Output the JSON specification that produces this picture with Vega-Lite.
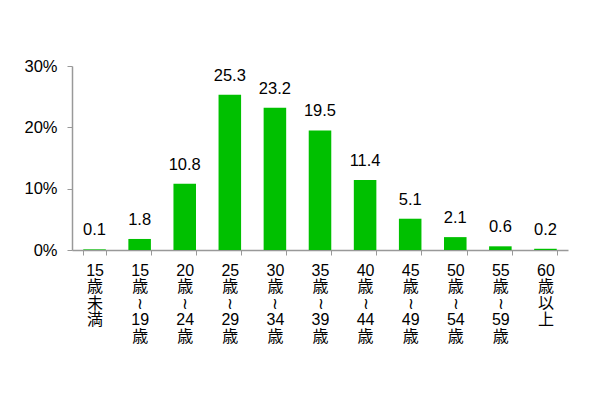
{
  "$schema": "https://vega.github.io/schema/vega-lite/v6.json",
  "autosize": "none",
  "width": 496,
  "height": 184,
  "padding": {"left": 72, "top": 66, "right": 42, "bottom": 150},
  "background": "white",
  "config": {"view": {"stroke": null}, "font": "Liberation Sans"},
  "data": {
    "values": [
      {"age": "15|歳|未|満", "pct": 0.1},
      {"age": "15|歳|≀|19|歳", "pct": 1.8},
      {"age": "20|歳|≀|24|歳", "pct": 10.8},
      {"age": "25|歳|≀|29|歳", "pct": 25.3},
      {"age": "30|歳|≀|34|歳", "pct": 23.2},
      {"age": "35|歳|≀|39|歳", "pct": 19.5},
      {"age": "40|歳|≀|44|歳", "pct": 11.4},
      {"age": "45|歳|≀|49|歳", "pct": 5.1},
      {"age": "50|歳|≀|54|歳", "pct": 2.1},
      {"age": "55|歳|≀|59|歳", "pct": 0.6},
      {"age": "60|歳|以|上", "pct": 0.2}
    ]
  },
  "encoding": {
    "x": {
      "field": "age", "type": "nominal", "sort": null,
      "scale": {"paddingInner": 0.5, "paddingOuter": 0.25},
      "axis": {
        "title": null, "labelAngle": 0, "labelExpr": "split(datum.label, '|')",
        "labelFont": "Liberation Sans, Noto Sans CJK JP", "labelFontSize": 16, "labelColor": "#000",
        "labelLineHeight": 16.5, "labelBaseline": "top", "labelPadding": 7,
        "tickBand": "extent", "tickSize": 5, "tickColor": "#999", "domainColor": "#999", "domainWidth": 1.5
      }
    },
    "y": {
      "field": "pct", "type": "quantitative",
      "scale": {"domain": [0, 30], "nice": false},
      "axis": {
        "title": null, "values": [0, 10, 20, 30], "grid": false,
        "labelExpr": "datum.value + '%'", "labelFontSize": 16.5, "labelColor": "#000",
        "labelPadding": 10, "tickSize": 5, "tickColor": "#999", "domainColor": "#999", "domainWidth": 1.5
      }
    }
  },
  "layer": [
    {"mark": {"type": "bar", "color": "#00c000"}},
    {
      "mark": {"type": "text", "baseline": "bottom", "dy": -11, "fontSize": 16.5, "color": "#000"},
      "encoding": {"text": {"field": "pct", "type": "quantitative", "format": ".1f"}}
    }
  ]
}
